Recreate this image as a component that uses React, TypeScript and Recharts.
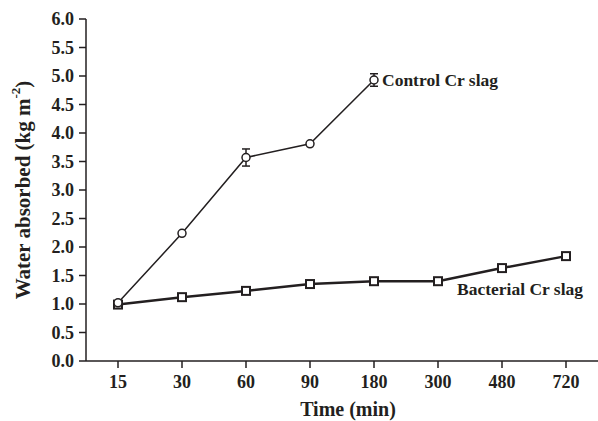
import { LineChart, Line, XAxis, YAxis, ErrorBar } from 'recharts'

// time points (min) are plotted as evenly spaced categories
const times = ['15', '30', '60', '90', '180', '300', '480', '720']
const controlSlag = [1.02, 2.24, 3.57, 3.81, 4.93, null, null, null]
const controlErr = [null, null, 0.15, null, 0.11, null, null, null]
const bacterialSlag = [0.99, 1.12, 1.23, 1.35, 1.4, 1.4, 1.63, 1.84]
const yTicks = [0, 0.5, 1, 1.5, 2, 2.5, 3, 3.5, 4, 4.5, 5, 5.5, 6]

const INK = '#231f20'
const FONT = '"Liberation Serif", "Times New Roman", serif'

const data = times.map((t, i) => ({
  time: t,
  control: controlSlag[i],
  controlErr: controlErr[i],
  bacterial: bacterialSlag[i],
}))

const CircleDot = (p: any) => {
  if (p.cx == null || p.cy == null || p.value == null) return null
  return <circle key={p.index} cx={p.cx} cy={p.cy} r={4} fill="#fff" stroke={INK} strokeWidth={1.5} />
}

const SquareDot = (p: any) => {
  if (p.cx == null || p.cy == null) return null
  return <rect key={p.index} x={p.cx - 4} y={p.cy - 4} width={8} height={8} fill="#fff" stroke={INK} strokeWidth={2} />
}

const controlLabel = (p: any) =>
  p.index === 4 ? (
    <text key="cl" x={p.x + 8} y={p.y} dy="0.35em" fontFamily={FONT} fontWeight="bold" fontSize={17.5} fill={INK}>
      Control Cr slag
    </text>
  ) : null

const bacterialLabel = (p: any) =>
  p.index === 5 ? (
    <text key="bl" x={p.x + 19} y={p.y + 8} dy="0.35em" fontFamily={FONT} fontWeight="bold" fontSize={17.5} fill={INK}>
      Bacterial Cr slag
    </text>
  ) : null

const YLabel = ({ viewBox }: any) => {
  const cx = viewBox.x + 23
  const cy = viewBox.y + viewBox.height / 2
  return (
    <text
      x={cx}
      y={cy}
      transform={`rotate(-90, ${cx}, ${cy})`}
      textAnchor="middle"
      dominantBaseline="central"
      fontFamily={FONT}
      fontWeight="bold"
      fontSize={21}
      fill={INK}
    >
      Water absorbed (kg m<tspan dy={-8} fontSize={13}>-2</tspan>
      <tspan dy={8}>)</tspan>
    </text>
  )
}

const XLabel = ({ viewBox }: any) => {
  const cx = viewBox.x + viewBox.width / 2
  return (
    <text x={cx + 6} y={viewBox.y + 48} textAnchor="middle" dominantBaseline="central" fontFamily={FONT} fontWeight="bold" fontSize={20} fill={INK}>
      Time (min)
    </text>
  )
}

const tickStyle = { fontFamily: FONT, fontWeight: 'bold', fontSize: 18, fill: INK }

export default function App() {
  return (
    <div style={{ position: 'absolute', left: 0, top: 0, background: '#fff' }}>
      <LineChart width={598} height={421} data={data} margin={{ top: 19, right: 0, bottom: 0, left: 0 }}>
        <XAxis
          dataKey="time"
          height={60}
          padding={{ left: 32, right: 32 }}
          axisLine={{ stroke: INK, strokeWidth: 1.5 }}
          tickLine={{ stroke: INK, strokeWidth: 1.5 }}
          tickSize={7}
          tickMargin={7}
          tick={tickStyle}
          interval={0}
          label={<XLabel />}
        />
        <YAxis
          width={86}
          domain={[0, 6]}
          ticks={yTicks}
          interval={0}
          tickFormatter={(v: number) => v.toFixed(1)}
          axisLine={{ stroke: INK, strokeWidth: 1.5 }}
          tickLine={{ stroke: INK, strokeWidth: 1.5 }}
          tickSize={7}
          tickMargin={5}
          tick={tickStyle}
          label={<YLabel />}
        />
        <Line
          dataKey="bacterial"
          stroke={INK}
          strokeWidth={2.5}
          dot={<SquareDot />}
          label={bacterialLabel}
          isAnimationActive={false}
        />
        <Line
          dataKey="control"
          stroke={INK}
          strokeWidth={1.5}
          dot={<CircleDot />}
          label={controlLabel}
          isAnimationActive={false}
        >
          <ErrorBar dataKey="controlErr" direction="y" width={4} stroke={INK} strokeWidth={1.5} />
        </Line>
      </LineChart>
    </div>
  )
}
